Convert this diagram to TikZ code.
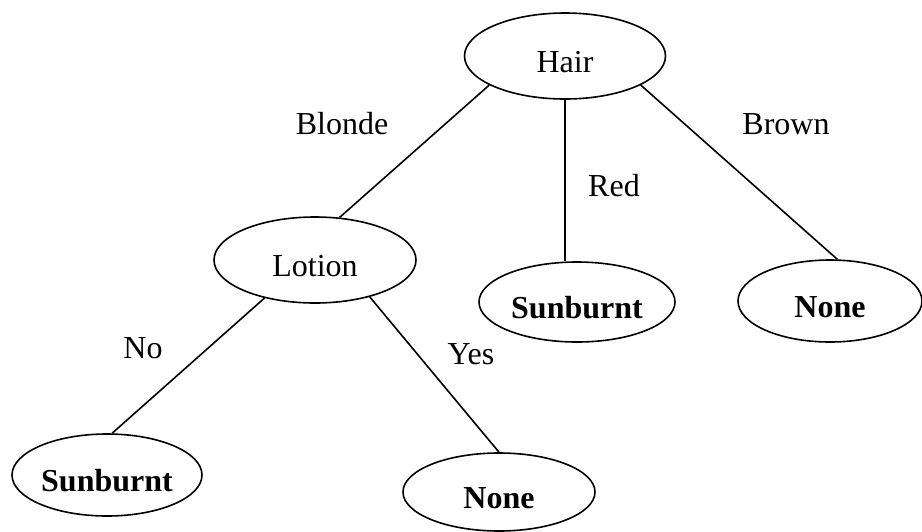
\documentclass[tikz,border=0pt]{standalone}
\usepackage{fontspec}
\setmainfont{Liberation Serif}
\usepackage{tikz}
\usetikzlibrary{arrows,shapes.geometric}

\begin{document}
\begin{tikzpicture}[x=0.5pt, y=-0.5pt]
        \useasboundingbox (0,0) rectangle (922,531);
        \tikzset{every node/.style={font=\fontsize{16}{19}\selectfont}}
        \tikzset{attr/.style={ellipse, draw, thick, inner sep=0pt, text height=16pt, text depth=0pt}}
        \tikzset{leaf/.style={attr, font=\fontsize{16}{19}\selectfont\bfseries}}
        % attribute tests
        \node[attr, minimum width=100.5pt, minimum height=43pt] (hair) at (565, 56) {Hair};
        \node[attr, minimum width=101pt, minimum height=43pt] (lotion) at (315, 260) {Lotion};
        % leaves
        \node[leaf, minimum width=98pt, minimum height=40pt] (sunred) at (577, 302) {Sunburnt};
        \node[leaf, minimum width=92pt, minimum height=41pt] (nonebrown) at (830, 301) {None};
        \node[leaf, minimum width=95pt, minimum height=41pt] (sunno) at (107, 475) {Sunburnt};
        \node[leaf, minimum width=96pt, minimum height=39pt] (noneyes) at (499, 492) {None};
        % branch values
        \node (blonde) at (342, 124) {Blonde};
        \node (red) at (614, 186) {Red};
        \node (brown) at (786, 124) {Brown};
        \node (no) at (143, 348) {No};
        \node (yes) at (471, 354) {Yes};
        \tikzset{branch/.style={-,thick}};
        \path (hair.201) edge [branch] (lotion.60);
        \path (hair.south) edge [branch] (hair.south |- sunred.north);
        \path (hair.339) edge [branch] (nonebrown.80);
        \path (lotion.217) edge [branch] (sunno.83);
        \path (lotion.326) edge [branch] (noneyes.north);
      \end{tikzpicture}
\end{document}
